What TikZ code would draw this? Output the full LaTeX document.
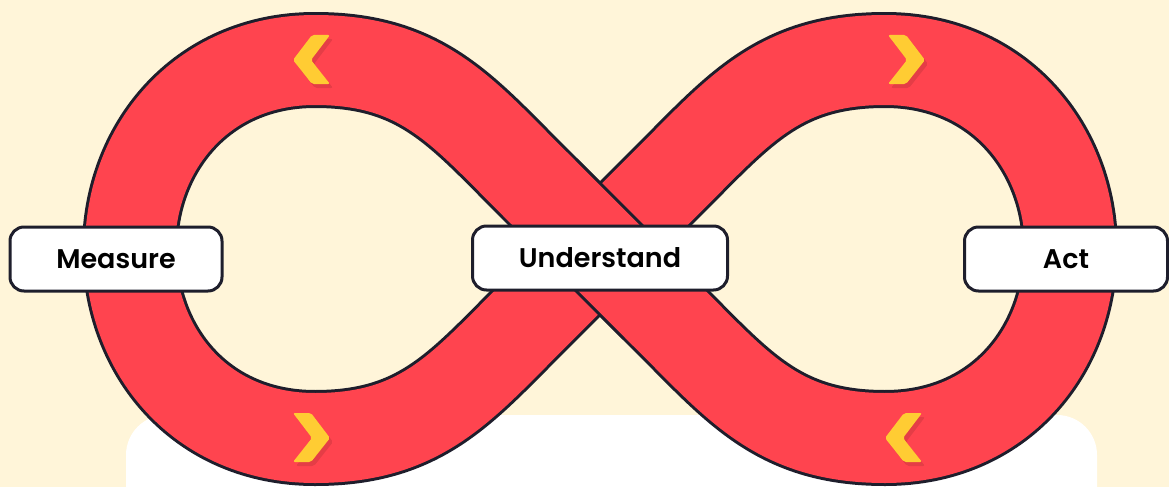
\documentclass[tikz,border=0pt]{standalone}
\usepackage{fontspec}
\setmainfont{Poppins}[BoldFont={Poppins SemiBold}]
\usetikzlibrary{shadows}
\definecolor{Cream}{HTML}{FFF5D9}
\definecolor{Loop}{HTML}{FF444F}
\definecolor{Ink}{HTML}{1E1E2C}
\definecolor{Gold}{HTML}{FFCC33}
\tikzset{
    stage/.style={rectangle, rounded corners=14pt, draw=Ink, line width=3pt, fill=white, text=black, minimum height=64pt, font=\fontsize{27}{32}\selectfont\bfseries},
    bandedge/.style={draw=Ink, line width=96pt, line join=round},
    bandfill/.style={draw=Loop, line width=90pt, line join=round},
    chevron/.style={fill=Gold, rounded corners=2pt, drop shadow={shadow xshift=3pt, shadow yshift=-4pt, opacity=0.10, fill=black}},
}
\newcommand{\eightpath}{(530,179) .. controls (460,109) and (420,60) .. (315,60)
    .. controls (200,60) and (130,150) .. (130,249)
    .. controls (130,350) and (200,438) .. (315,438)
    .. controls (420,438) and (460,389) .. (530,319)
    -- (670,179)
    .. controls (740,109) and (780,60) .. (885,60)
    .. controls (1000,60) and (1070,150) .. (1070,249)
    .. controls (1070,350) and (1000,438) .. (885,438)
    .. controls (780,438) and (740,389) .. (670,319)
    -- cycle}
\newcommand{\chevleft}[1]{\fill[chevron] (#1) ++(-18,0) -- ++(19,-25) -- ++(18,0) -- ++(-19,25) -- ++(19,24) -- ++(-18,0) -- cycle;}
\newcommand{\chevright}[1]{\fill[chevron] (#1) ++(18,0) -- ++(-19,-25) -- ++(-18,0) -- ++(19,25) -- ++(-19,24) -- ++(18,0) -- cycle;}

\begin{document}
\begin{tikzpicture}[x=1pt, y=-1pt]
    \useasboundingbox (0,0) rectangle (1169,487);
    % Sfondo
    \fill[Cream] (0,0) rectangle (1169,487);
    \fill[white, rounded corners=40pt] (126,415) rectangle (1097,580);

    % Anello a otto
    \draw[bandedge] \eightpath;
    \draw[bandfill] \eightpath;

    % Tratto superiore all'incrocio
    \draw[bandedge] (543.4,192.4) -- (656.6,305.6);
    \draw[bandfill] (535,184) -- (665,314);

    % Frecce
    \chevleft{311,60}
    \chevright{907,60}
    \chevright{312,438}
    \chevleft{903,438}

    % Fasi
    \node[stage, minimum width=212pt] (measure) at (116,259) {Measure};
    \node[stage, minimum width=255pt] (understand) at (600,258) {Understand};
    \node[stage, minimum width=203pt] (act) at (1066,259) {Act};
\end{tikzpicture}
\end{document}
